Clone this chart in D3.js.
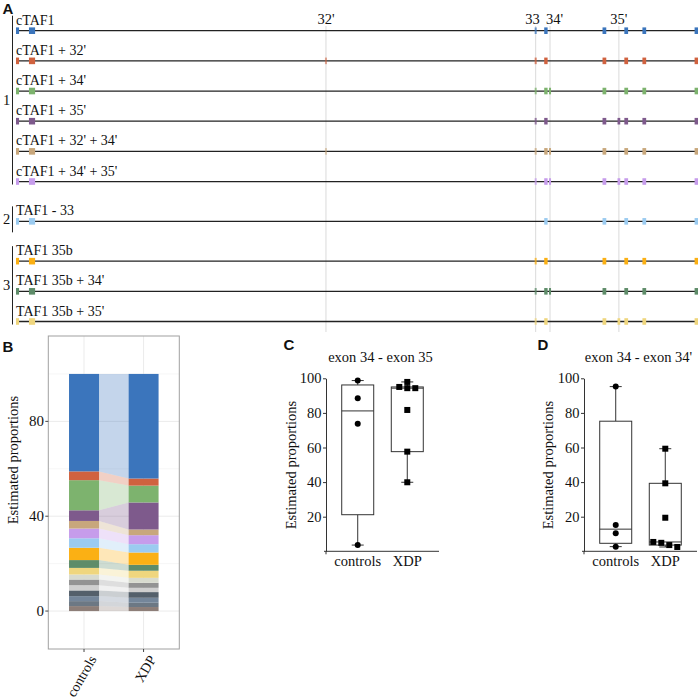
<!DOCTYPE html>
<html>
<head>
<meta charset="utf-8">
<script src="https://cdn.jsdelivr.net/npm/d3@7"></script>
<style>
body{margin:0;background:#fff;}
svg text{font-family:"Liberation Serif","Times New Roman",serif;fill:#111;}
svg text.panel{font-family:"Liberation Sans",Arial,sans-serif;font-weight:bold;font-size:15px;}
</style>
</head>
<body>
<svg id="fig" width="700" height="700"></svg>
<script>

// ---- panel A : isoform structures ----
var isoforms = ["cTAF1","cTAF1 + 32'","cTAF1 + 34'","cTAF1 + 35'","cTAF1 + 32' + 34'","cTAF1 + 34' + 35'",
                "TAF1 - 33","TAF1 35b","TAF1 35b + 34'","TAF1 35b + 35'"];
var isoformGroup = [1,1,1,1,1,1,2,3,3,3];
var isoformColors = ["#3B75BC","#D0623F","#7DB36E","#7E5A8C","#C8A77C","#C69CEB","#9BCBF0","#FBB014","#5E8C69","#EFD67E"];

// exon spans, % of transcript length
var exonNames = ["1","2","32'","33","34","34'","35","35'","36","37","38"];
var exonStart = [0.0, 1.9, 45.3, 76.05,77.45,78.15,86.0, 88.2, 89.2, 91.85,99.5];
var exonEnd   = [0.45,2.8, 45.6, 76.35,77.95,78.45,86.55,88.6, 89.75,92.4, 100];
var baseExons = ["1","2","33","34","35","36","37","38"];
var extraExons = [[],["32'"],["34'"],["35'"],["32'","34'"],["34'","35'"],[],[],["34'"],["35'"]];
var missingExons = [[],[],[],[],[],[],["33"],[],[],[]];
var guideExons = ["32'","33","34'","35'"];

// ---- panel B : stacked proportions (top to bottom) ----
var otherColors = ["#D8DBCF","#939393","#CFCFCF","#54606B","#74869A","#6C7884","#8D7E78"];
var stackNames = isoforms.concat(["other 1","other 2","other 3","other 4","other 5","other 6","other 7"]);
var propControls = [41.1,3.7,12.7,4.5,3.2,4.1,4.0,5.2,3.3,2.8,2.1,2.4,2.2,2.4,2.1,2.1,2.1];
var propXDP      = [44.1,3.0,7.1,11.4,2.4,3.8,3.5,5.2,2.5,3.0,2.1,2.1,1.8,2.4,2.1,1.8,1.7];
var ticksB = [0,40,80];

// ---- panels C, D : per-sample proportions ----
var boxGroups = ["controls","XDP"];
var exon35Controls = [98.7,88.5,73.8,3.6];
var exon35XDP = [97.9,95.0,94.3,94.3,81.7,57.6,39.9];
var exon34pControls = [95.2,15.2,10.4,2.7];
var exon34pXDP = [59.3,39.3,19.4,5.4,4.9,3.6,2.5];
var ticksBox = [20,40,60,80,100];


var svg = d3.select("#fig");

function panelLetter(t,x,y){
	svg.append('text').attr('class','panel').attr('x',x).attr('y',y).text(t);
}

// ================= A =================
function drawStructures(){
	var g = svg.append('g');
	var x = d3.scaleLinear().domain([0,100]).range([16,698]);
	// groups are separated by a little extra room
	var slot = isoforms.map(function(d,i){ return i + (isoformGroup[i]-1)*0.32; });
	var y = d3.scaleLinear().domain([0,d3.max(slot)]).range([30.7,321.5]);
	var mid = function(n){ var i = exonNames.indexOf(n); return x((exonStart[i]+exonEnd[i])/2); };

	g.selectAll('line.guide').data(guideExons).enter()
		.append('line').attr('class','guide')
		.attr('x1',mid).attr('x2',mid)
		.attr('y1',26).attr('y2',332)
		.attr('stroke','#dadada').attr('stroke-width',1);

	g.selectAll('text.guide').data(guideExons).enter()
		.append('text').attr('class','guide')
		.attr('x',function(d){ return d=="33" ? mid(d)+4 : d=="34'" ? mid(d)-4 : mid(d); })
		.attr('y',24)
		.attr('text-anchor',function(d){ return d=="33" ? 'end' : d=="34'" ? 'start' : 'middle'; })
		.attr('font-size',14.5)
		.text(function(d){return d;});

	var rows = g.selectAll('g.row').data(isoforms).enter()
		.append('g').attr('class','row')
		.attr('transform',function(d,i){ return 'translate(0,'+y(slot[i])+')'; });

	rows.append('line')
		.attr('x1',x(0)).attr('x2',x(100))
		.attr('stroke','#222').attr('stroke-width',1.3);

	rows.append('text')
		.attr('x',x(0)).attr('y',-6)
		.attr('font-size',14)
		.text(function(d){return d;});

	rows.each(function(d,i){
		var used = baseExons.concat(extraExons[i]).filter(function(e){ return missingExons[i].indexOf(e)<0; });
		d3.select(this).selectAll('rect').data(used).enter()
			.append('rect')
			.attr('x',function(e){ return x(exonStart[exonNames.indexOf(e)]); })
			.attr('width',function(e){ var k=exonNames.indexOf(e); return x(exonEnd[k])-x(exonStart[k]); })
			.attr('y',-3.3).attr('height',6.6)
			.attr('fill',isoformColors[i])
			.attr('fill-opacity',function(e){ return e=="32'" ? 0.55 : e=="33" ? 0.75 : 1; });
	});

	// group brackets
	d3.group(isoforms.map(function(d,i){return i;}), function(i){return isoformGroup[i];}).forEach(function(idx,grp){
		var top = y(slot[idx[0]])-15, bot = Math.max(y(slot[idx[idx.length-1]])+3, y(slot[idx[0]])+11);
		g.append('line').attr('x1',12.5).attr('x2',12.5).attr('y1',top).attr('y2',bot)
			.attr('stroke','#222').attr('stroke-width',1);
		g.append('text').attr('x',6.5).attr('y',(top+bot)/2)
			.attr('text-anchor','middle').attr('dominant-baseline','central')
			.attr('font-size',14.5).text(grp);
	});

	panelLetter('A',2.5,14);
}

// ================= B =================
function drawStack(){
	var g = svg.append('g');
	var x = d3.scalePoint().domain(boxGroups).range([48.3,179.3]).padding(0.6);
	var y = d3.scaleLinear().domain([-16,116]).range([649,336]);
	var bw = 30;
	var colors = isoformColors.concat(otherColors);

	var table = boxGroups.map(function(grp,gi){
		var o = {group:grp};
		stackNames.forEach(function(k,i){ o[k] = (gi ? propXDP : propControls)[i]; });
		return o;
	});
	var series = d3.stack().keys(stackNames.slice().reverse())(table);
	var color = d3.scaleOrdinal().domain(stackNames).range(colors);

	// grid
	g.selectAll('line.minor').data([20,60,100]).enter().append('line')
		.attr('x1',48.3).attr('x2',179.3).attr('y1',y).attr('y2',y)
		.attr('stroke','#f4f4f4').attr('stroke-width',0.8);
	g.selectAll('line.major').data(ticksB).enter().append('line')
		.attr('x1',48.3).attr('x2',179.3).attr('y1',y).attr('y2',y)
		.attr('stroke','#ebebeb').attr('stroke-width',1);
	g.selectAll('line.vgrid').data(boxGroups).enter().append('line')
		.attr('x1',x).attr('x2',x).attr('y1',336).attr('y2',649)
		.attr('stroke','#ebebeb').attr('stroke-width',1);

	// flows between the two bars
	g.selectAll('polygon').data(series).enter().append('polygon')
		.attr('points',function(s){
			var xa = x('controls')+bw/2, xb = x('XDP')-bw/2;
			return [[xa,y(s[0][1])],[xb,y(s[1][1])],[xb,y(s[1][0])],[xa,y(s[0][0])]].join(' ');
		})
		.attr('fill',function(s){return color(s.key);})
		.attr('fill-opacity',0.3);

	g.selectAll('g.layer').data(series).enter().append('g').attr('class','layer')
		.attr('fill',function(s){return color(s.key);})
		.selectAll('rect').data(function(s){return s;}).enter().append('rect')
		.attr('x',function(d){return x(d.data.group)-bw/2;})
		.attr('width',bw)
		.attr('y',function(d){return y(d[1]);})
		.attr('height',function(d){return y(d[0])-y(d[1]);});

	g.append('rect').attr('x',48.3).attr('y',336).attr('width',131).attr('height',313)
		.attr('fill','none').attr('stroke','#a0a0a0').attr('stroke-width',1);

	g.selectAll('line.ytick').data(ticksB).enter().append('line')
		.attr('x1',45.3).attr('x2',48.3).attr('y1',y).attr('y2',y)
		.attr('stroke','#444');
	g.selectAll('text.ytick').data(ticksB).enter().append('text')
		.attr('x',44).attr('y',y).attr('dominant-baseline','central')
		.attr('text-anchor','end').attr('font-size',15)
		.attr('fill','#333')
		.text(function(d){return d;});
	g.selectAll('line.xtick').data(boxGroups).enter().append('line')
		.attr('x1',x).attr('x2',x).attr('y1',649).attr('y2',652)
		.attr('stroke','#444');
	g.selectAll('text.xtick').data(boxGroups).enter().append('text')
		.attr('transform',function(d){ return 'translate('+(x(d)+13)+',659) rotate(-60)'; })
		.attr('text-anchor','end').attr('font-size',14)
		.attr('fill','#333')
		.text(function(d){return d;});

	g.append('text')
		.attr('transform','translate(18.3,460) rotate(-90)')
		.attr('text-anchor','middle').attr('font-size',14.5)
		.text('Estimated proportions');

	panelLetter('B',2.5,352);
}

// ================= C, D =================
function prismQuantile(sorted,p){
	var n = sorted.length, pos = p*(n+1);
	if(pos<=1) return sorted[0];
	if(pos>=n) return sorted[n-1];
	var lo = Math.floor(pos), f = pos-lo;
	return sorted[lo-1] + f*(sorted[lo]-sorted[lo-1]);
}

// points that are nearly equal are set side by side
function spreadPoints(vals,gap){
	var s = vals.slice().sort(d3.descending), out = [], cluster = [];
	function flush(){
		cluster.forEach(function(v,i){ out.push({v:v,k:i-(cluster.length-1)/2}); });
		cluster = [];
	}
	s.forEach(function(v){
		if(cluster.length && cluster[cluster.length-1]-v > gap) flush();
		cluster.push(v);
	});
	flush();
	return out;
}

function drawBoxPanel(cfg){
	var g = svg.append('g');
	var x = d3.scalePoint().domain(boxGroups).range(cfg.xRange).padding(0.64);
	var y = d3.scaleLinear().domain([0,100]).range([551.3,378.3]);
	var bw = 32;

	var yAxis = g.append('g')
		.attr('transform','translate('+cfg.xRange[0]+',0)')
		.style('color','#333')
		.call(d3.axisLeft(y).tickValues(ticksBox).tickSizeInner(3).tickSizeOuter(0).tickPadding(1.5));
	yAxis.selectAll('text').attr('font-family','Liberation Serif, serif').attr('font-size',14.5).attr('fill','#111');
	g.append('line').attr('x1',cfg.xRange[0]).attr('x2',cfg.xRange[0]).attr('y1',y(0)).attr('y2',y(0)+3).attr('stroke','#333');
	g.append('line').attr('x1',cfg.xRange[0]-2).attr('x2',cfg.xRange[1]).attr('y1',y(0)).attr('y2',y(0)).attr('stroke','#333');

	g.selectAll('text.xl').data(boxGroups).enter().append('text')
		.attr('x',x).attr('y',y(0)+14.5)
		.attr('text-anchor','middle').attr('font-size',14.5)
		.text(function(d){return d;});

	cfg.values.forEach(function(vals,gi){
		var grp = boxGroups[gi], cx = x(grp);
		var s = vals.slice().sort(d3.ascending);
		var q1 = prismQuantile(s,0.25), med = prismQuantile(s,0.5), q3 = prismQuantile(s,0.75);
		var lo = s[0], hi = s[s.length-1];
		var bg = g.append('g').attr('stroke','#333').attr('stroke-width',1);
		bg.append('line').attr('x1',cx).attr('x2',cx).attr('y1',y(hi)).attr('y2',y(q3));
		bg.append('line').attr('x1',cx).attr('x2',cx).attr('y1',y(q1)).attr('y2',y(lo));
		bg.append('line').attr('x1',cx-6).attr('x2',cx+6).attr('y1',y(hi)).attr('y2',y(hi));
		bg.append('line').attr('x1',cx-6).attr('x2',cx+6).attr('y1',y(lo)).attr('y2',y(lo));
		bg.append('rect').attr('x',cx-bw/2).attr('width',bw)
			.attr('y',y(q3)).attr('height',y(q1)-y(q3)).attr('fill','#fff');
		bg.append('line').attr('x1',cx-bw/2).attr('x2',cx+bw/2).attr('y1',y(med)).attr('y2',y(med));

		var pts = spreadPoints(vals,2.5);
		if(gi==0){
			g.selectAll(null).data(pts).enter().append('circle')
				.attr('cx',function(d){return cx+d.k*8;}).attr('cy',function(d){return y(d.v);})
				.attr('r',3).attr('fill','#000');
		}else{
			g.selectAll(null).data(pts).enter().append('rect')
				.attr('x',function(d){return cx+d.k*8-3;}).attr('y',function(d){return y(d.v)-3;})
				.attr('width',6).attr('height',6).attr('fill','#000');
		}
	});

	g.append('text')
		.attr('x',(cfg.xRange[0]+cfg.xRange[1])/2-2).attr('y',361.7)
		.attr('text-anchor','middle').attr('font-size',14.5)
		.text(cfg.title);
	g.append('text')
		.attr('transform','translate('+cfg.labelX+',465) rotate(-90)')
		.attr('text-anchor','middle').attr('font-size',14.5)
		.text('Estimated proportions');

	panelLetter(cfg.letter,cfg.letterX,350);
}

drawStructures();
drawStack();
drawBoxPanel({letter:'C',letterX:283.5,xRange:[326,439],labelX:295.5,title:'exon 34 - exon 35',values:[exon35Controls,exon35XDP]});
drawBoxPanel({letter:'D',letterX:537.5,xRange:[584,697],labelX:552.5,title:"exon 34 - exon 34'",values:[exon34pControls,exon34pXDP]});

</script>
</body>
</html>
